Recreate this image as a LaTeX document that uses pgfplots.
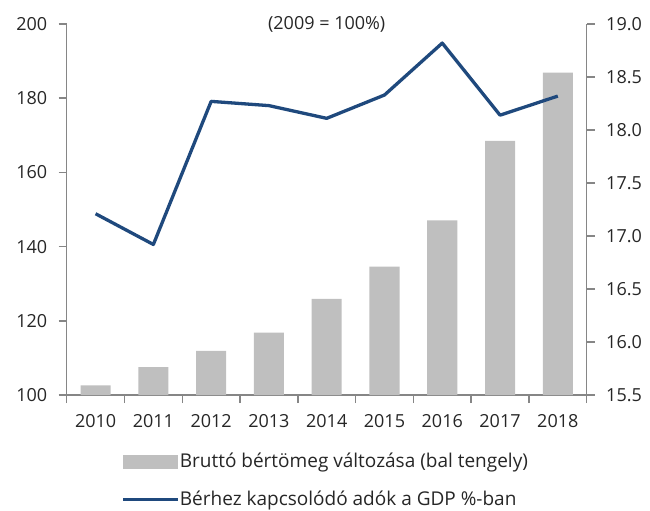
\documentclass[border=0pt]{standalone}
\usepackage{pgfplots}
\pgfplotsset{compat=1.18}
\usepackage{fontspec}
\setmainfont{Open Sans}
\definecolor{bargray}{RGB}{191,191,191}
\definecolor{linblue}{RGB}{31,73,125}
\definecolor{axgray}{RGB}{134,134,134}
\definecolor{txt}{RGB}{38,38,38}
\newcommand{\chfont}{\fontsize{18bp}{21bp}\selectfont}
\newcommand{\lgfont}{\fontsize{19bp}{22bp}\selectfont}
\begin{document}
\begin{tikzpicture}[font=\chfont]
\pgfplotsset{
  base/.style={
    scale only axis, width=520bp, height=371bp,
    xmin=-0.5, xmax=8.5,
    /pgf/number format/assume math mode=true,
    tick label style={font=\chfont, text=txt},
    axis line style={axgray, line width=1.5bp},
    tick style={axgray, line width=1.5bp},
    major tick length=8bp,
    tick align=outside,
    clip=false,
  }
}
\begin{axis}[base,
  axis x line*=bottom, axis y line*=left,
  ymin=100, ymax=200, ytick={100,120,...,200},
  yticklabel style={xshift=-8bp},
  xtick={-0.5,0.5,...,8.5}, xticklabels={},
  extra x ticks={0,1,2,3,4,5,6,7,8},
  extra x tick labels={2010,2011,2012,2013,2014,2015,2016,2017,2018},
  extra x tick style={major tick length=0pt, tick style={draw=none},
    xticklabel style={yshift=-16bp}},
]
\addplot[ybar, bar width=0.52, fill=bargray, draw=none] coordinates {
  (0,102.6) (1,107.5) (2,111.9) (3,116.8) (4,125.9)
  (5,134.6) (6,147.1) (7,168.5) (8,186.9)};
\coordinate (O) at (rel axis cs:0,0);
\node[text=txt, font=\chfont] at (rel axis cs:0.5,1) {(2009 = 100\%)};
\end{axis}
\begin{axis}[base,
  axis x line=none, axis y line*=right,
  ymin=15.5, ymax=19.0,
  ytick={15.5,16.0,16.5,17.0,17.5,18.0,18.5,19.0},
  yticklabel style={xshift=8bp, /pgf/number format/.cd, fixed, fixed zerofill, precision=1},
  legend cell align=left,
  legend style={at={(0.1000,-0.146)}, anchor=north west, draw=none, fill=none,
    font=\lgfont, text=txt, row sep=18bp,
    nodes={inner xsep=0bp}},
]
\addlegendimage{legend image code/.code={\fill[bargray] (0bp,-6.5bp) rectangle (54bp,6.5bp);}}
\addlegendentry{Bruttó bértömeg változása (bal tengely)}
\addplot[linblue, line width=3.3bp, line join=round,
  legend image code/.code={\draw[linblue, line width=3bp] (0bp,0bp) -- (55bp,0bp);}]
  coordinates {
  (0,17.21) (1,16.92) (2,18.27) (3,18.23) (4,18.11)
  (5,18.33) (6,18.82) (7,18.14) (8,18.32)};
\addlegendentry{Bérhez kapcsolódó adók a GDP \%-ban}
\end{axis}
\pgfresetboundingbox
\path[use as bounding box] (O) ++(-66.7bp,-116bp) rectangle ++(650bp,511bp);
\end{tikzpicture}
\end{document}
